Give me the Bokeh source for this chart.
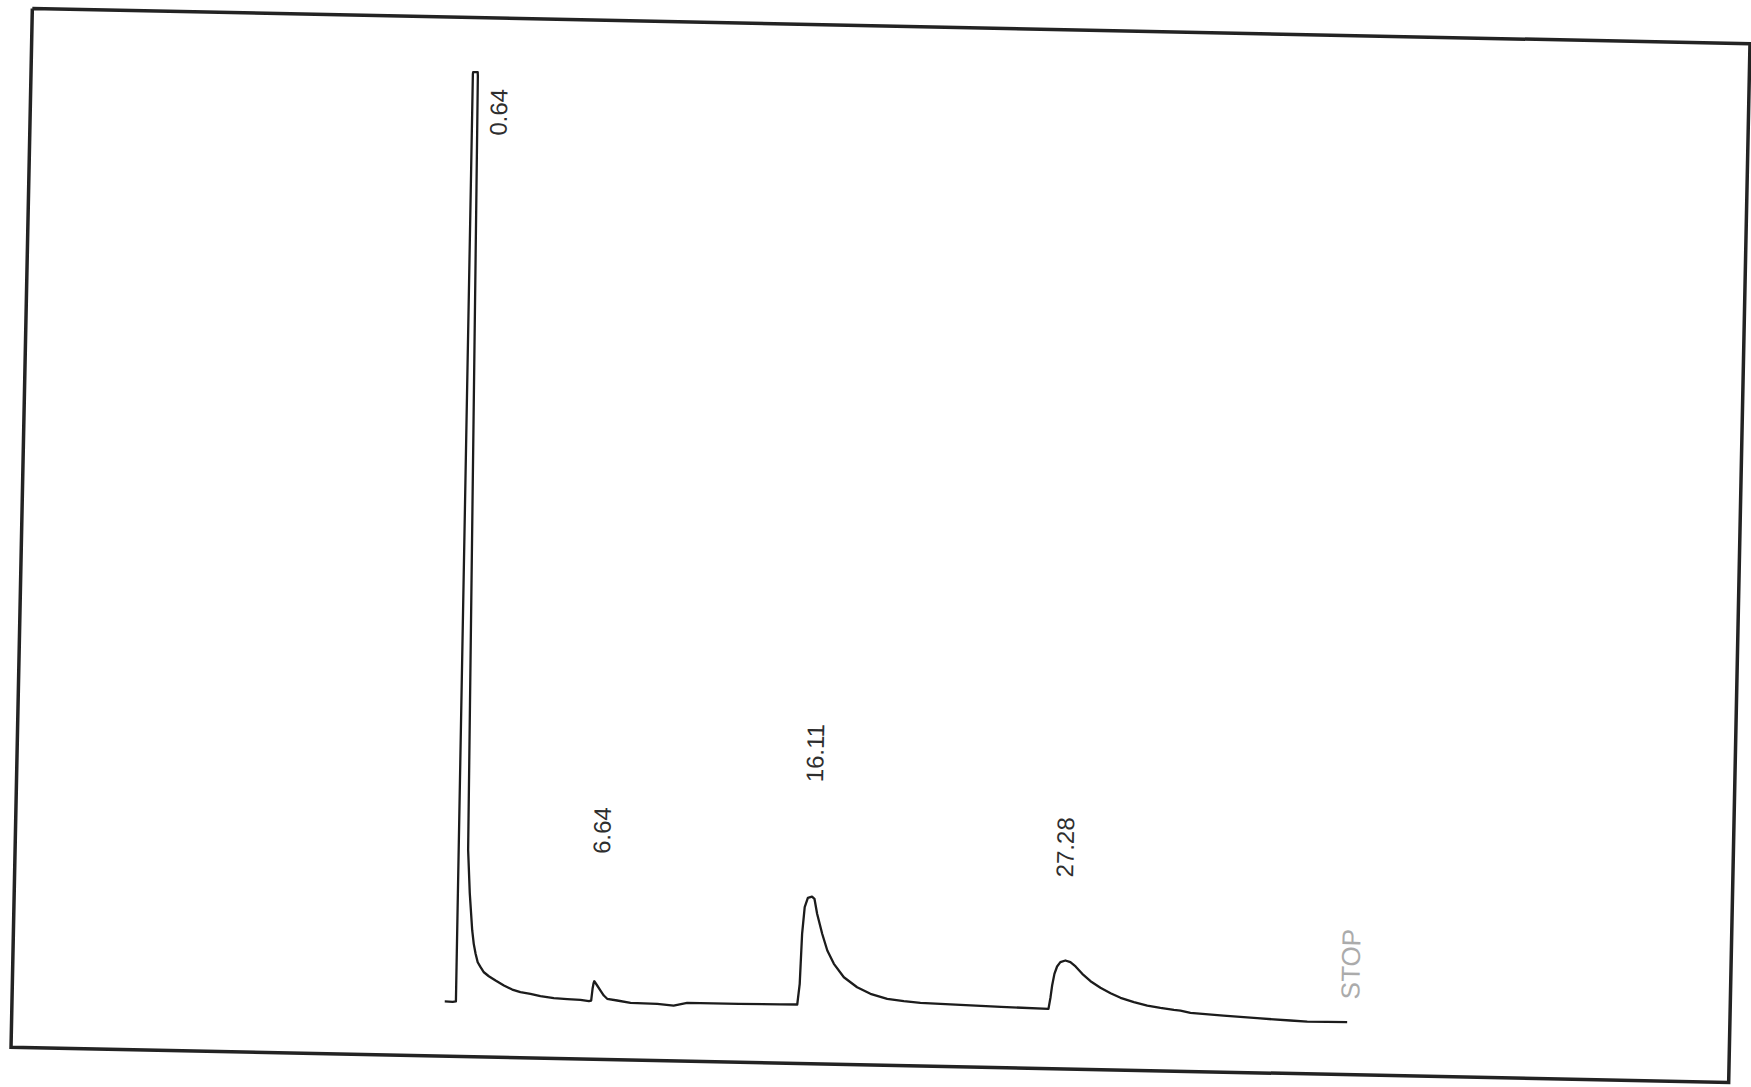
import math

from bokeh.plotting import figure
from bokeh.models import Range1d
from bokeh.core.properties import value
from bokeh.embed import file_html
from bokeh.resources import INLINE

# --- chromatogram data -------------------------------------------------------
# retention time (min) and detector response (arbitrary units)
time_min = [
    0.10, 0.45, 0.59, 0.50, 0.51, 0.71, 0.72, 0.76, 0.87, 0.94,
    0.99, 1.10, 1.24, 1.32, 1.41, 1.51, 1.64, 1.79, 2.01, 2.31,
    2.68, 3.05, 3.41, 3.85, 4.29, 4.88, 5.47, 6.05, 6.42, 6.52,
    6.57, 6.61, 6.64, 6.77, 6.92, 7.07, 7.22, 7.66, 8.25, 9.42,
    10.14, 10.73, 11.31, 13.00, 14.80, 15.56, 15.65, 15.71, 15.80, 15.93,
    16.11, 16.22, 16.35, 16.59, 16.83, 17.13, 17.58, 18.17, 18.76, 19.50,
    20.23, 20.96, 22.50, 24.50, 26.58, 26.66, 26.72, 26.81, 26.92, 27.06,
    27.28, 27.50, 27.73, 28.03, 28.40, 28.84, 29.29, 29.73, 30.32, 30.91,
    31.49, 32.08, 32.37, 32.81, 34.26, 35.74, 37.20, 37.94, 39.69,
]
response = [
    3.2, 3.0, 3.5, 931, 933, 933, 929, 818, 501, 300,
    155, 112, 75, 61.4, 51.5, 43.1, 38.2, 33.2, 29.3, 25.2,
    20.4, 16.5, 14.0, 12.6, 10.4, 8.7, 8.0, 7.6, 6.4, 7.1,
    18.9, 24.5, 26.5, 22.3, 17.3, 12.4, 9.2, 7.7, 5.6, 5.2,
    3.8, 6.8, 6.7, 6.8, 7.2, 7.4, 28.1, 78.2, 104.8, 114.3,
    115.6, 113.4, 98.5, 78.6, 62.0, 48.8, 35.6, 25.9, 19.6, 14.9,
    12.9, 11.6, 10.5, 9.2, 8.2, 19.9, 31.6, 43.3, 50.7, 55.1,
    56.9, 55.3, 51.1, 43.9, 36.7, 30.3, 25.1, 20.7, 16.6, 13.5,
    11.5, 9.8, 9.2, 7.1, 5.1, 3.1, 1.5, 0.8, 1.0,
]

peak_rt = [0.64, 6.64, 16.11, 27.28]
peak_labels = ["0.64", "6.64", "16.11", "27.28"]
stop_time = 39.8
stop_label = "STOP"

# --- page layout -------------------------------------------------------------
W, H = 1751, 1087
CX, CY = 880.0, 545.0          # centre of the printed frame (page px, y down)
THETA = 0.0205                 # the sheet sits slightly turned clockwise
HALF_W, HALF_H = 859.0, 519.5  # frame half extents
U0, KX = -428.6, 22.8          # time axis: frame px at t=0, px per minute
V0, KY = 468.0, 1.0            # signal axis: frame px of zero response, px per unit

# label placement along time (min offset) and height (response units)
label_dt = [1.02, 0.20, 0.01, -0.11]
label_h = [870, 154, 230, 140]
stop_h = 24.0

cos_t, sin_t = math.cos(THETA), math.sin(THETA)


def to_page(u, v):
    """Frame coordinates (u right, v down from frame centre) -> page coords (y up)."""
    xs, ys = [], []
    for a, b in zip(u, v):
        x = CX + a * cos_t - b * sin_t
        y = CY + a * sin_t + b * cos_t
        xs.append(x)
        ys.append(H - y)
    return xs, ys


def chart_to_page(t, s):
    u = [U0 + KX * ti for ti in t]
    v = [V0 - KY * si for si in s]
    return to_page(u, v)


p = figure(
    width=W, height=H,
    x_range=Range1d(0, W), y_range=Range1d(0, H),
    output_backend="svg", toolbar_location=None,
    min_border=0, background_fill_color="white", border_fill_color="white",
)
p.axis.visible = False
p.grid.visible = False
p.outline_line_color = None

# printed frame
fu = [-HALF_W, HALF_W, HALF_W, -HALF_W, -HALF_W]
fv = [-HALF_H, -HALF_H, HALF_H, HALF_H, -HALF_H]
fx, fy = to_page(fu, fv)
p.line(fx, fy, line_color="#232323", line_width=3.5, line_join="miter")

# detector trace
tx, ty = chart_to_page(time_min, response)
p.line(tx, ty, line_color="#1c1c1c", line_width=2.3, line_join="round")

# retention time annotations
lx, ly = chart_to_page([rt + d for rt, d in zip(peak_rt, label_dt)], label_h)
p.text(lx, ly, text=peak_labels, angle=math.pi / 2 - THETA,
       text_font=value("Liberation Sans"), text_font_size="24px",
       text_color="#2e2e2e", text_align="left", text_baseline="middle")

sx, sy = chart_to_page([stop_time], [stop_h])
p.text(sx, sy, text=[stop_label], angle=math.pi / 2 - THETA,
       text_font=value("Liberation Sans"), text_font_size="26px",
       text_color="#ababab", text_align="left", text_baseline="middle")

open("out.html", "w").write(file_html(p, INLINE))
